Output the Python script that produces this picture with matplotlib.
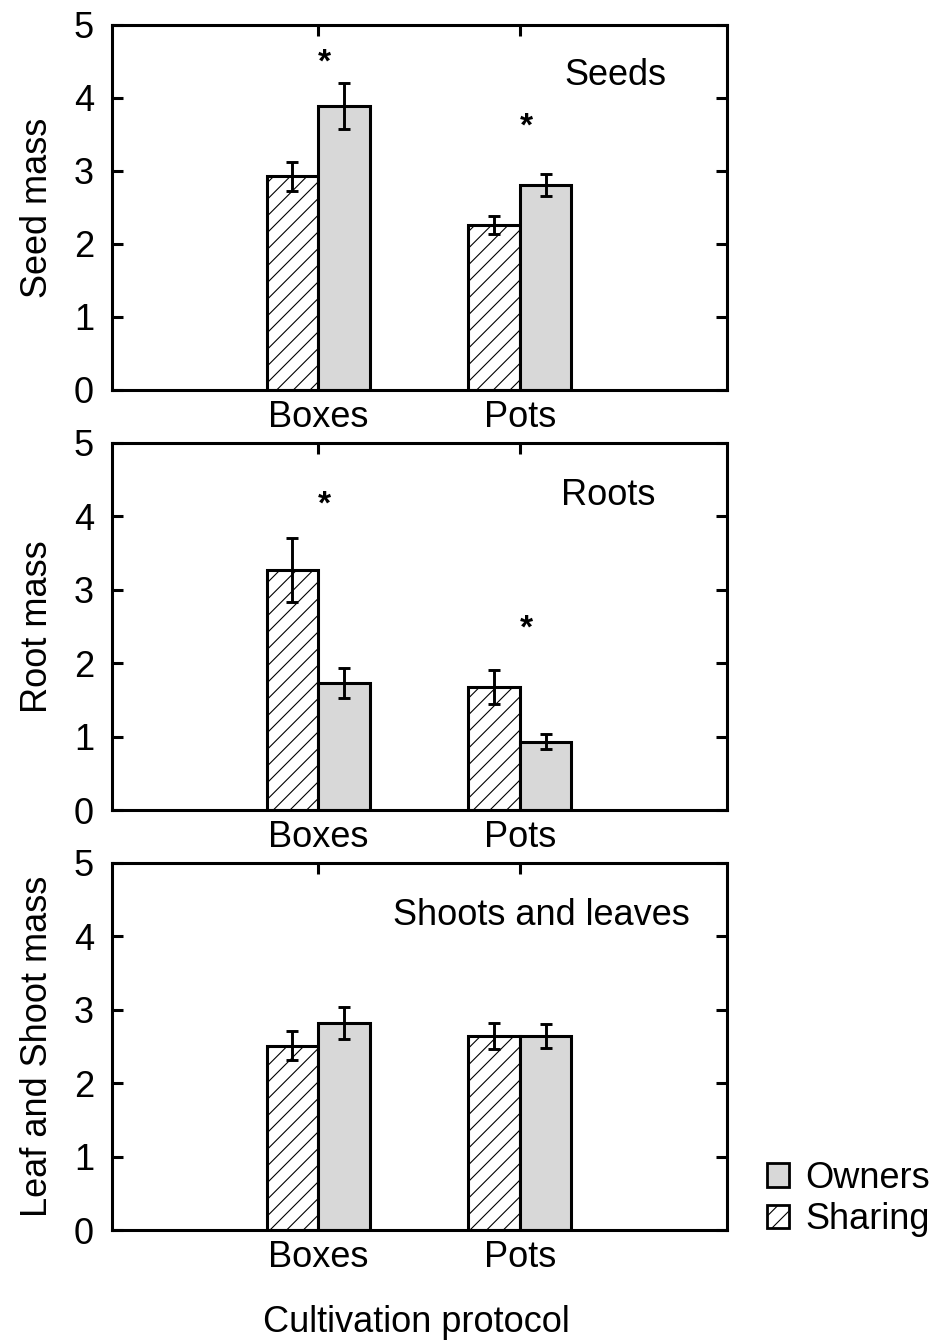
import matplotlib
matplotlib.use("Agg")
import matplotlib.pyplot as plt
import numpy as np

# Cultivation protocols and treatment groups
protocols = ["Boxes", "Pots"]
groups = ["Sharing", "Owners"]

# Seed mass (mean, error)
seed_sharing = [2.93, 2.26]
seed_sharing_err = [0.20, 0.12]
seed_owners = [3.89, 2.81]
seed_owners_err = [0.31, 0.15]
seed_stars = [4.55, 3.67]

# Root mass (mean, error)
root_sharing = [3.27, 1.68]
root_sharing_err = [0.44, 0.23]
root_owners = [1.73, 0.93]
root_owners_err = [0.21, 0.10]
root_stars = [4.22, 2.53]

# Leaf and shoot mass (mean, error)
shoot_sharing = [2.51, 2.64]
shoot_sharing_err = [0.20, 0.18]
shoot_owners = [2.82, 2.64]
shoot_owners_err = [0.22, 0.16]
shoot_stars = []

y_ticks = [0, 1, 2, 3, 4, 5]
panel_titles = ["Seeds", "Roots", "Shoots and leaves"]
y_labels = ["Seed mass", "Root mass", "Leaf and Shoot mass"]
x_title = "Cultivation protocol"

plt.rcParams["font.family"] = ["Liberation Sans", "DejaVu Sans"]
plt.rcParams["hatch.linewidth"] = 0.8
FS = 26
LW = 2.2

fig = plt.figure(figsize=(9.5, 13.41), dpi=100)
W, H = 950, 1341
ax_left, ax_right = 112, 727
panel_px = [(25, 390), (443, 810), (863, 1230)]
title_pos = [(0.818, 0.863), (0.807, 0.858), (0.698, 0.858)]

panels = [
    (seed_sharing, seed_sharing_err, seed_owners, seed_owners_err, seed_stars),
    (root_sharing, root_sharing_err, root_owners, root_owners_err, root_stars),
    (shoot_sharing, shoot_sharing_err, shoot_owners, shoot_owners_err, shoot_stars),
]

x = np.arange(len(protocols))
bw = 0.255
for i, (sh, sh_e, ow, ow_e, stars) in enumerate(panels):
    top, bot = panel_px[i]
    ax = fig.add_axes([ax_left / W, 1 - bot / H, (ax_right - ax_left) / W, (bot - top) / H])
    b_sh = ax.bar(x - bw / 2, sh, bw, color="white", edgecolor="black",
                  linewidth=LW, hatch="//", label=groups[0], zorder=2)
    b_ow = ax.bar(x + bw / 2, ow, bw, color="#d8d8d8", edgecolor="black",
                  linewidth=LW, label=groups[1], zorder=2)
    ax.errorbar(x - bw / 2, sh, yerr=sh_e, fmt="none", ecolor="black",
                elinewidth=2.1, capsize=4.3, capthick=2.1, zorder=3)
    ax.errorbar(x + bw / 2, ow, yerr=ow_e, fmt="none", ecolor="black",
                elinewidth=2.1, capsize=4.3, capthick=2.1, zorder=3)
    for xi, sy in zip(x, stars):
        ax.annotate("*", (xi + 0.03, sy), ha="center", va="center",
                    fontsize=24, fontweight="bold", xytext=(0, -3.5),
                    textcoords="offset points")
    ax.set_xlim(-1.02, 2.025)
    ax.set_ylim(0, 5)
    ax.set_yticks(y_ticks)
    ax.set_xticks(x)
    ax.set_xticklabels(protocols)
    ax.tick_params(axis="y", direction="in", length=8, width=LW, left=True,
                   right=True, labelsize=FS, pad=13)
    ax.tick_params(axis="x", direction="in", length=8, width=LW, bottom=False,
                   top=True, labelbottom=True, labelsize=FS, pad=7)
    for s in ax.spines.values():
        s.set_linewidth(LW)
    ax.set_ylabel(y_labels[i], fontsize=FS)
    ax.yaxis.set_label_coords(-0.093, 0.5)
    ax.text(title_pos[i][0], title_pos[i][1], panel_titles[i], transform=ax.transAxes,
            ha="center", va="center", fontsize=FS)

fig.text(416 / W, 1 - 1322 / H, x_title, ha="center", va="center", fontsize=FS)

handles = [b_ow, b_sh]
leg = fig.legend(handles, [groups[1], groups[0]], loc="center left",
                 bbox_to_anchor=(767 / W, 1 - 1199 / H), frameon=False,
                 fontsize=FS, handlelength=0.62, handleheight=0.62,
                 handletextpad=0.45, labelspacing=0.18, borderpad=0, borderaxespad=0)
for p in leg.get_patches():
    p.set_linewidth(2)

fig.savefig("out.png", dpi=100)
